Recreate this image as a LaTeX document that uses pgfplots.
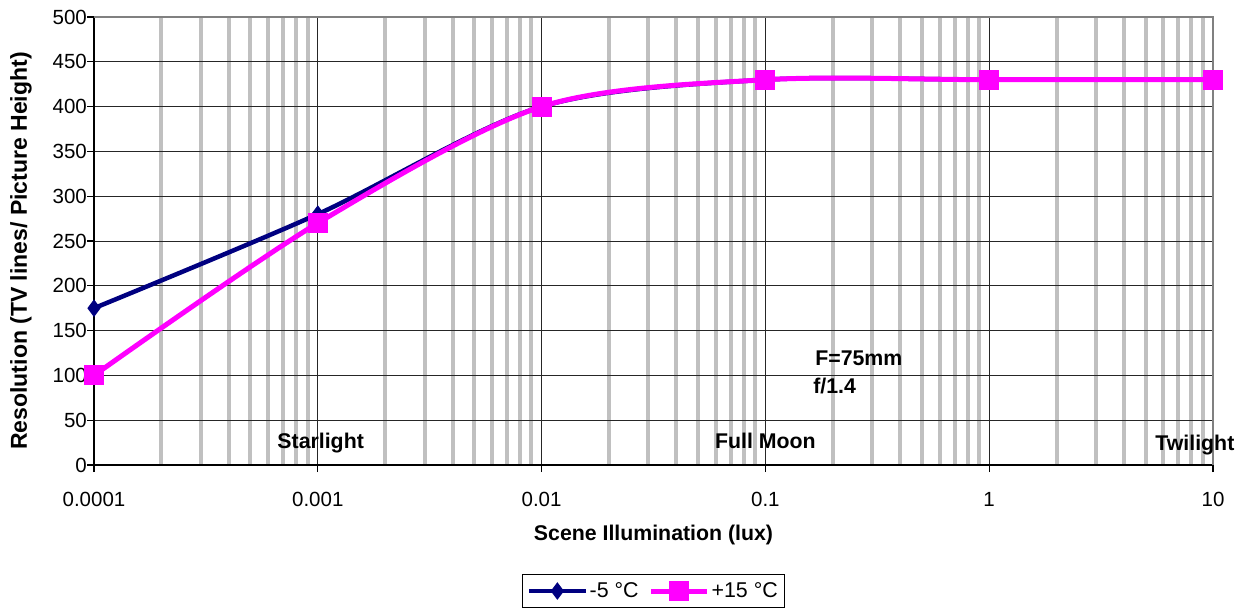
\documentclass[border=0pt]{standalone}
\usepackage{fontspec}
\setmainfont{Liberation Sans}
\usepackage{pgfplots}
\pgfplotsset{compat=1.18}

\definecolor{navy}{RGB}{0,0,128}
\definecolor{xlmagenta}{RGB}{255,0,255}
\definecolor{minorgray}{RGB}{192,192,192}
\definecolor{framegray}{RGB}{128,128,128}
\newcommand\chartfont{\fontsize{20.5bp}{24bp}\selectfont}
\newcommand\labelfont{\bfseries\fontsize{21.3bp}{25bp}\selectfont}

\begin{document}
\begin{tikzpicture}
\useasboundingbox (-94bp,-143bp) rectangle (1153bp,465bp);
\begin{axis}[
    at={(0,0)}, anchor=south west,
    width=1119bp, height=448bp, scale only axis,
    xmode=log, xmin=1e-4, xmax=10,
    ymin=0, ymax=500,
    xtick={1e-4,1e-3,1e-2,1e-1,1,10},
    xticklabels={0.0001,0.001,0.01,0.1,1,10},
    minor xtick={2e-4,3e-4,4e-4,5e-4,6e-4,7e-4,8e-4,9e-4,
                 2e-3,3e-3,4e-3,5e-3,6e-3,7e-3,8e-3,9e-3,
                 2e-2,3e-2,4e-2,5e-2,6e-2,7e-2,8e-2,9e-2,
                 0.2,0.3,0.4,0.5,0.6,0.7,0.8,0.9,
                 2,3,4,5,6,7,8,9},
    ytick={0,50,...,500},
    axis x line*=bottom, axis y line*=left,
    axis line style={black, line width=1.5bp, -},
    tick align=outside,
    major tick length=7bp, minor tick length=0pt,
    tick style={black, line width=1.3bp},
    xmajorgrids, ymajorgrids, xminorgrids,
    major grid style={black!85, line width=1bp},
    minor grid style={minorgray, line width=4bp},
    tick label style={font=\chartfont},
    /pgf/number format/assume math mode=true,
    xticklabel style={anchor=north, inner sep=0pt, yshift=-20bp},
    yticklabel style={anchor=east, inner sep=0pt},
    xlabel={Scene Illumination (lux)},
    ylabel={Resolution (TV lines/ Picture Height)},
    every axis x label/.style={at={(axis description cs:0.5,-0.1696)}, anchor=base, font=\labelfont},
    every axis y label/.style={at={(axis description cs:-0.0600,0.4777)}, rotate=90, anchor=base,
        font=\bfseries\fontsize{23bp}{27bp}\selectfont},
    clip mode=individual,
    legend columns=2,
    legend style={at={(axis description cs:0.5,-0.2813)}, anchor=center,
        draw=black, line width=1bp, font=\fontsize{21.4bp}{25bp}\selectfont,
        inner xsep=5bp, inner ysep=6bp,
        /tikz/every even column/.append style={column sep=8bp}},
    legend image code/.code={\draw[mark repeat=2, mark phase=2, #1]
        plot coordinates {(0bp,0bp) (28bp,0bp) (56bp,0bp)};},
]
% plot area border, grey on top and right
\draw[framegray, line width=1.5bp] (rel axis cs:0,1) -- (rel axis cs:1,1) -- (rel axis cs:1,0);

\addplot[navy, line width=4.5bp, smooth, mark=diamond*, mark size=8bp,
    mark options={solid, fill=navy, line width=1bp}]
    coordinates {(1e-4,175) (1e-3,280) (1e-2,400) (1e-1,430) (1,430) (10,430)};
\addlegendentry{-5 °C}

\addplot[xlmagenta, line width=5bp, smooth, mark=square*, mark size=9.5bp,
    mark options={solid, fill=xlmagenta, line width=1bp}]
    coordinates {(1e-4,100) (1e-3,270) (1e-2,400) (1e-1,430) (1,430) (10,430)};
\addlegendentry{+15 °C}

\node[font=\labelfont, anchor=base] at (axis cs:1.03e-3,18) {Starlight};
\node[font=\labelfont, anchor=base] at (axis cs:0.1,18) {Full Moon};
\node[font=\labelfont, anchor=base] at (axis cs:8.3,16.5) {Twilight};
\node[font=\labelfont, anchor=base west, inner sep=0pt] at (axis cs:0.1668,110.5) {F=75mm};
\node[font=\labelfont, anchor=base west, inner sep=0pt] at (axis cs:0.1635,80) {f/1.4};
\end{axis}
\end{tikzpicture}
\end{document}
